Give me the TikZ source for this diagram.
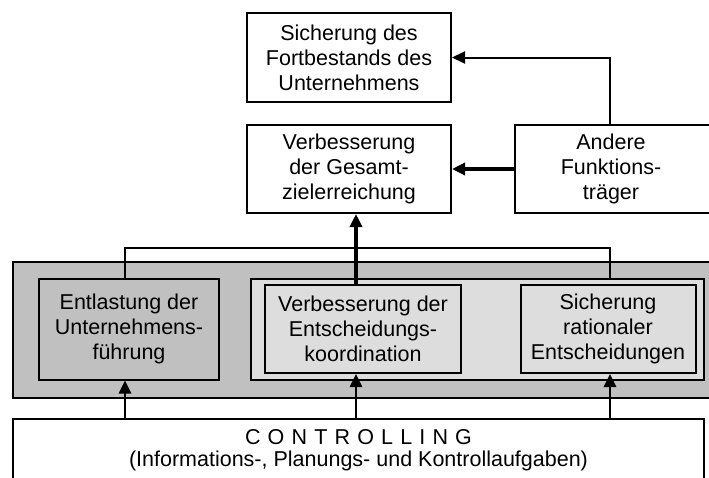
\documentclass[tikz,border=0pt]{standalone}
\usepackage{fontspec}
\setmainfont{Liberation Sans}
\usetikzlibrary{arrows.meta}
\definecolor{outergray}{HTML}{C0C0C0}
\definecolor{lightgray}{HTML}{DDDDDD}
\begin{document}
\begin{tikzpicture}[x=1pt,y=-1pt,
  box/.style={draw, line width=2pt, align=center, inner sep=0pt,
    font=\fontsize{21.5}{25}\selectfont},
  thinline/.style={line width=2pt},
  tip/.style={-{Triangle[length=13pt,width=12pt]}},
  upthin/.style={tip, line width=2.6pt},
  upthick/.style={tip, line width=3.4pt}]
\useasboundingbox (0,0) rectangle (709,477);
\clip (0,0) rectangle (709,477);
\fill[white] (0,0) rectangle (709,477);

% upper chain
\node[box, minimum width=204pt, minimum height=89pt] (top) at (349,57.5)
  {Sicherung des\\Fortbestands des\\Unternehmens};
\node[box, minimum width=204pt, minimum height=88pt] (mid) at (349,169)
  {Verbesserung\\der Gesamt-\\zielerreichung};
\node[box, minimum width=198pt, minimum height=88pt, text width=190pt] (oth) at (614,169)
  {\hspace*{-6pt}Andere\\\hspace*{-6pt}Funktions-\\\hspace*{-6pt}träger};

% effect area
\node[box, fill=outergray, minimum width=702pt, minimum height=136pt] (area) at (364,329.5) {};
\node[box, fill=outergray, minimum width=180pt, minimum height=101pt] (ent) at (129,329)
  {Entlastung der\\Unternehmens-\\führung};
\node[box, fill=lightgray, minimum width=453pt, minimum height=101pt] (grp) at (477.5,329) {};
\node[box, fill=lightgray, minimum width=196pt, minimum height=88pt] (vek) at (363,329)
  {Verbesserung der\\Entscheidungs-\\koordination};
\node[box, fill=lightgray, minimum width=175pt, minimum height=88pt] (sre) at (608,329)
  {Sicherung\\rationaler\\Entscheidungen};

% base
\node[box, font=\fontsize{21.5}{22}\selectfont, minimum width=691pt, minimum height=62pt] (ctl) at (358.5,450)
  {C\,\,O\,\,N\,\,T\,\,R\,\,O\,\,L\,\,L\,\,I\,\,N\,\,G\\(Informations-, Planungs- und Kontrollaufgaben)};

% routing columns
\coordinate (cl) at (125,248);
\coordinate (cm) at (356,248);
\coordinate (cr) at (610,248);

% connectors
\draw[thinline] (ent.north -| cl) -- (cl) -- (cr) -- (grp.north -| cr);
\draw[upthick] (vek.north -| cm) -- (mid.south -| cm);
\draw[upthick] (oth.west) -- (mid.east);
\draw[thinline, tip] (oth.north -| cr) |- (top.east);

\draw[upthin] (ctl.north -| cl) -- (ent.south -| cl);
\draw[upthin] (ctl.north -| cm) -- (vek.south -| cm);
\draw[upthin] (ctl.north -| cr) -- (sre.south -| cr);
\end{tikzpicture}
\end{document}
